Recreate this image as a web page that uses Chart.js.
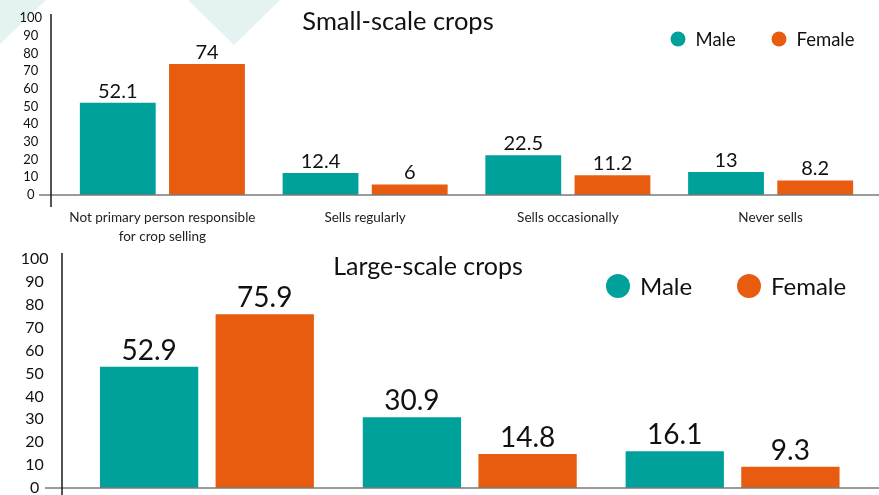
<!DOCTYPE html>
<html lang="en">
<head>
    <meta charset="UTF-8">
    <title>Crop selling by gender</title>
    <script src="https://cdn.jsdelivr.net/npm/chart.js"></script>
    <style>
        body { margin: 0; background: #fff; }
        .page { position: relative; width: 879px; height: 495px; overflow: hidden; }
        .deco { position: absolute; top: 0; background: #e5f2f2; }
        .deco-left { left: 0; width: 46px; height: 44px; clip-path: polygon(0 0, 100% 0, 0 100%); }
        .deco-mid { left: 188px; width: 92px; height: 45px; clip-path: polygon(0 0, 100% 0, 50% 100%); }
        canvas { position: absolute; left: 0; }
        #smallChart { top: 0; }
        #largeChart { top: 245px; }
    </style>
</head>
<body>
<div class="page">
    <div class="deco deco-left"></div>
    <div class="deco deco-mid"></div>
    <canvas id="smallChart" width="879" height="245"></canvas>
    <canvas id="largeChart" width="879" height="250"></canvas>
</div>

<script>
    // values
    const smallCategories = [['Not primary person responsible', 'for crop selling'], 'Sells regularly', 'Sells occasionally', 'Never sells'];
    const smallMale = [52.1, 12.4, 22.5, 13];
    const smallFemale = [74, 6, 11.2, 8.2];

    // x labels of the lower chart are cut off in the picture
    const largeCategories = ['Not primary person responsible for crop selling', 'Sells', 'Never sells'];
    const largeMale = [52.9, 30.9, 16.1];
    const largeFemale = [75.9, 14.8, 9.3];

    const yMin = 0;
    const yMax = 100;
    const yStep = 10;

    const TEAL = '#00a19b';
    const ORANGE = '#e85c0f';
    const FONT = 'Lato, "Noto Sans", sans-serif';

    Chart.defaults.font.family = FONT;
    Chart.defaults.color = '#111';

    // axis lines, value labels, title and legend
    const decorPlugin = {
        id: 'decor',
        afterDraw(chart, args, o) {
            const ctx = chart.ctx;
            const yScale = chart.scales.y;
            const zeroY = yScale.getPixelForValue(0);
            ctx.save();

            // value labels
            ctx.fillStyle = '#111';
            ctx.font = o.valueSize + 'px ' + FONT;
            ctx.textAlign = 'center';
            ctx.textBaseline = 'alphabetic';
            chart.data.datasets.forEach((ds, i) => {
                chart.getDatasetMeta(i).data.forEach((bar, j) => {
                    ctx.fillText(String(ds.data[j]), bar.x, bar.y - o.valueGap);
                });
            });

            // baseline
            ctx.strokeStyle = '#7a7a7a';
            ctx.lineWidth = 1.5;
            ctx.beginPath();
            ctx.moveTo(o.baseStart, zeroY);
            ctx.lineTo(chart.width, zeroY);
            ctx.stroke();

            // vertical axis
            ctx.strokeStyle = '#1a1a1a';
            ctx.lineWidth = 1.5;
            ctx.beginPath();
            ctx.moveTo(o.axisX, o.axisTop);
            ctx.lineTo(o.axisX, o.axisBottom);
            ctx.stroke();

            // title
            ctx.fillStyle = '#111';
            ctx.font = o.titleSize + 'px ' + FONT;
            ctx.textBaseline = 'middle';
            ctx.textAlign = 'center';
            ctx.fillText(o.title, o.titleX, o.titleY);

            // legend
            ctx.font = o.legendSize + 'px ' + FONT;
            ctx.textAlign = 'left';
            chart.data.datasets.forEach((ds, i) => {
                const cx = o.legendX[i];
                ctx.fillStyle = ds.backgroundColor;
                ctx.beginPath();
                ctx.arc(cx, o.legendY, o.legendR, 0, Math.PI * 2);
                ctx.fill();
                ctx.fillStyle = '#111';
                ctx.fillText(ds.label, cx + o.legendR + o.legendGap, o.legendY + 1);
            });
            ctx.restore();
        }
    };

    function makeChart(id, categories, male, female, opts) {
        return new Chart(document.getElementById(id), {
            type: 'bar',
            data: {
                labels: categories,
                datasets: [
                    { label: 'Male', data: male, backgroundColor: TEAL },
                    { label: 'Female', data: female, backgroundColor: ORANGE }
                ]
            },
            options: {
                responsive: false,
                animation: false,
                categoryPercentage: 0.88,
                barPercentage: 0.85,
                layout: { padding: { top: opts.padTop, right: opts.padRight, left: 0, bottom: 0 } },
                scales: {
                    x: {
                        grid: { display: false, drawTicks: false },
                        border: { display: false },
                        ticks: {
                            display: opts.showX,
                            maxRotation: 0,
                            autoSkip: false,
                            padding: 14,
                            color: '#222',
                            font: { size: 13.5, lineHeight: 1.35 }
                        },
                        afterFit(scale) {
                            scale.height = opts.xHeight;
                            scale.paddingLeft = 0;
                            scale.paddingRight = 0;
                        }
                    },
                    y: {
                        min: yMin,
                        max: yMax,
                        grid: { display: false, drawTicks: false },
                        border: { display: false },
                        ticks: {
                            stepSize: yStep,
                            autoSkip: false,
                            crossAlign: 'center',
                            padding: opts.tickPad,
                            color: '#111',
                            font: { size: opts.tickSize }
                        },
                        afterFit(scale) {
                            scale.width = opts.yWidth;
                            scale.paddingTop = 0;
                            scale.paddingBottom = 0;
                        }
                    }
                },
                plugins: {
                    legend: { display: false },
                    tooltip: { enabled: false },
                    decor: opts.decor
                }
            },
            plugins: [decorPlugin]
        });
    }

    makeChart('smallChart', smallCategories, smallMale, smallFemale, {
        padTop: 18, padRight: 7, xHeight: 50, yWidth: 61, tickPad: 19, tickSize: 13, showX: true,
        decor: {
            title: 'Small-scale crops', titleX: 398, titleY: 22, titleSize: 25.5,
            legendX: [678, 779], legendY: 39, legendR: 7.5, legendGap: 10, legendSize: 18.5,
            valueSize: 20, valueGap: 5,
            axisX: 51, axisTop: 14, axisBottom: 207, baseStart: 39
        }
    });

    makeChart('largeChart', largeCategories, largeMale, largeFemale, {
        padTop: 14, padRight: 15, xHeight: 7, yWidth: 75.5, tickPad: 27, tickSize: 16, showX: false,
        decor: {
            title: 'Large-scale crops', titleX: 428, titleY: 22, titleSize: 25,
            legendX: [618, 749], legendY: 41, legendR: 12, legendGap: 10, legendSize: 24,
            valueSize: 28, valueGap: 7,
            axisX: 62, axisTop: 8, axisBottom: 250, baseStart: 45
        }
    });
</script>
</body>
</html>
